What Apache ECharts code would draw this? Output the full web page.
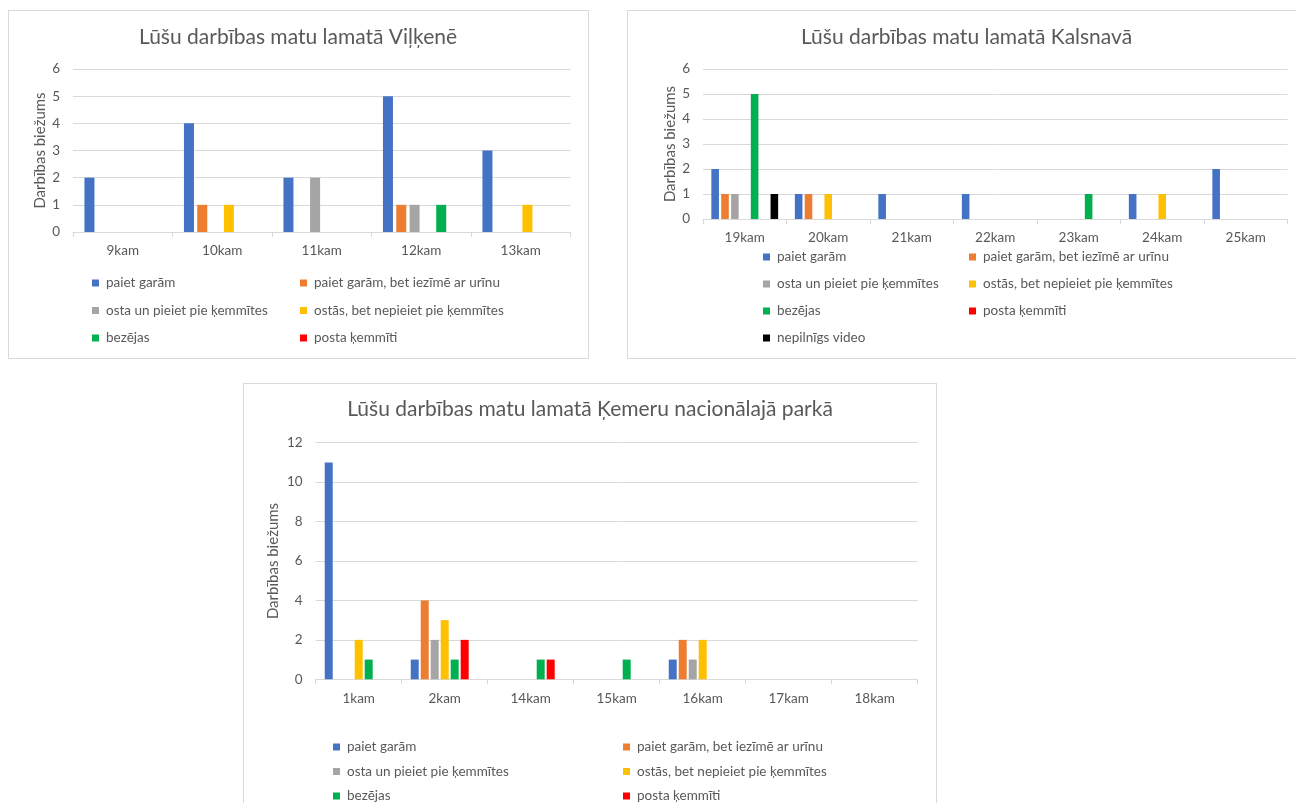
<!DOCTYPE html>
<html>
<head>
<meta charset="utf-8">
<script src="https://cdn.jsdelivr.net/npm/echarts@6/dist/echarts.min.js"></script>
<style>
  html, body { margin: 0; padding: 0; background: #fff; width: 1296px; height: 803px; overflow: hidden; position: relative; }
  .panel { position: absolute; box-sizing: border-box; border: 1px solid #D9D9D9; background: #fff; }
</style>
</head>
<body>
<div id="p1" class="panel" style="left:8px; top:10px; width:581px; height:349px;"></div>
<div id="p2" class="panel" style="left:627px; top:10px; width:700px; height:349px;"></div>
<div id="p3" class="panel" style="left:243px; top:383px; width:694px; height:440px;"></div>
<script>
// Behaviour categories (series names) and their colours
const seriesNames = [
  'paiet garām',
  'paiet garām, bet iezīmē ar urīnu',
  'osta un pieiet pie ķemmītes',
  'ostās, bet nepieiet pie ķemmītes',
  'bezējas',
  'posta ķemmīti',
  'nepilnīgs video'
];
const seriesColors = ['#4472C4', '#ED7D31', '#A5A5A5', '#FFC000', '#00B050', '#FF0000', '#000000'];

// Viļķene
const vilkeneTitle = 'Lūšu darbības matu lamatā Viļķenē';
const vilkeneCameras = ['9kam', '10kam', '11kam', '12kam', '13kam'];
const vilkeneValues = [
  [2, 4, 2, 5, 3],
  [0, 1, 0, 1, 0],
  [0, 0, 2, 1, 0],
  [0, 1, 0, 0, 1],
  [0, 0, 0, 1, 0],
  [0, 0, 0, 0, 0]
];

// Kalsnava
const kalsnavaTitle = 'Lūšu darbības matu lamatā Kalsnavā';
const kalsnavaCameras = ['19kam', '20kam', '21kam', '22kam', '23kam', '24kam', '25kam'];
const kalsnavaValues = [
  [2, 1, 1, 1, 0, 1, 2],
  [1, 1, 0, 0, 0, 0, 0],
  [1, 0, 0, 0, 0, 0, 0],
  [0, 1, 0, 0, 0, 1, 0],
  [5, 0, 0, 0, 1, 0, 0],
  [0, 0, 0, 0, 0, 0, 0],
  [1, 0, 0, 0, 0, 0, 0]
];

// Ķemeru nacionālais parks
const kemeriTitle = 'Lūšu darbības matu lamatā Ķemeru nacionālajā parkā';
const kemeriCameras = ['1kam', '2kam', '14kam', '15kam', '16kam', '17kam', '18kam'];
const kemeriValues = [
  [11, 1, 0, 0, 1, 0, 0],
  [0, 4, 0, 0, 2, 0, 0],
  [0, 2, 0, 0, 1, 0, 0],
  [2, 3, 0, 0, 2, 0, 0],
  [1, 1, 1, 1, 0, 0, 0],
  [0, 2, 1, 0, 0, 0, 0],
  [0, 0, 0, 0, 0, 0, 0]
];

const yAxisName = 'Darbības biežums';
const FONT = 'Lato, "Open Sans", "Noto Sans", sans-serif';
const TXT = '#595959';
const LINE = '#D9D9D9';

function buildChart(el, o) {
  const chart = echarts.init(el, null, { renderer: 'canvas' });
  const legendItem = {
    orient: 'vertical',
    icon: 'rect',
    itemWidth: 7,
    itemHeight: 7,
    itemGap: o.legendGap,
    top: o.legendTop,
    selectedMode: false,
    textStyle: { color: TXT, fontFamily: FONT, fontSize: 13.5, lineHeight: 14, padding: [0, 0, 0, 2] }
  };
  const col1 = [], col2 = [];
  for (let i = 0; i < o.legendCount; i++) (i % 2 === 0 ? col1 : col2).push(seriesNames[i]);
  chart.setOption({
    animation: false,
    color: seriesColors,
    textStyle: { fontFamily: FONT },
    title: {
      text: o.title,
      left: o.titleX,
      textAlign: 'center',
      top: o.titleTop,
      textStyle: { color: TXT, fontFamily: FONT, fontSize: 21, fontWeight: 'normal' }
    },
    legend: [
      Object.assign({}, legendItem, { left: o.legendLeft[0], data: col1 }),
      Object.assign({}, legendItem, { left: o.legendLeft[1], data: col2 })
    ],
    grid: Object.assign({ containLabel: false }, o.grid),
    xAxis: {
      type: 'category',
      data: o.categories,
      axisLine: { lineStyle: { color: LINE, width: 1 } },
      axisTick: { show: true, length: 5, lineStyle: { color: LINE } },
      axisLabel: { color: TXT, fontSize: 13.5, fontFamily: FONT, margin: 12 }
    },
    yAxis: {
      type: 'value',
      min: 0,
      max: o.yMax,
      interval: o.yStep,
      name: yAxisName,
      nameLocation: 'middle',
      nameGap: o.nameGap,
      nameRotate: 90,
      nameMoveOverlap: false,
      nameTextStyle: { color: TXT, fontSize: 15, fontFamily: FONT },
      axisLine: { show: false },
      axisTick: { show: false },
      axisLabel: { color: TXT, fontSize: 13.5, fontFamily: FONT, margin: 13 },
      splitLine: { lineStyle: { color: LINE, width: 1 } }
    },
    series: o.values.map((vals, i) => ({
      name: seriesNames[i],
      type: 'bar',
      data: vals,
      barGap: o.barGap,
      barCategoryGap: o.barCategoryGap,
      itemStyle: { color: seriesColors[i] },
      emphasis: { disabled: true }
    }))
  });
  return chart;
}

buildChart(document.getElementById('p1'), {
  title: vilkeneTitle, categories: vilkeneCameras, values: vilkeneValues,
  titleX: 284, titleTop: 11,
  grid: { left: 64, top: 58, width: 497.5, height: 163 },
  yMax: 6, yStep: 1, nameGap: 25.5,
  barGap: '33%', barCategoryGap: '23%',
  legendCount: 6, legendTop: 260, legendGap: 13.5, legendLeft: [78, 286]
});

buildChart(document.getElementById('p2'), {
  title: kalsnavaTitle, categories: kalsnavaCameras, values: kalsnavaValues,
  titleX: 333.5, titleTop: 11,
  grid: { left: 75, top: 58, width: 584.5, height: 150 },
  yMax: 6, yStep: 1, nameGap: 25.5,
  barGap: '30%', barCategoryGap: '20%',
  legendCount: 7, legendTop: 234, legendGap: 13, legendLeft: [130, 336]
});

buildChart(document.getElementById('p3'), {
  title: kemeriTitle, categories: kemeriCameras, values: kemeriValues,
  titleX: 341, titleTop: 10,
  grid: { left: 71.7, top: 58.7, width: 602, height: 236.6 },
  yMax: 12, yStep: 2, nameGap: 35,
  barGap: '25%', barCategoryGap: '21%',
  legendCount: 6, legendTop: 351, legendGap: 10.5, legendLeft: [84, 374]
});
</script>
</body>
</html>
